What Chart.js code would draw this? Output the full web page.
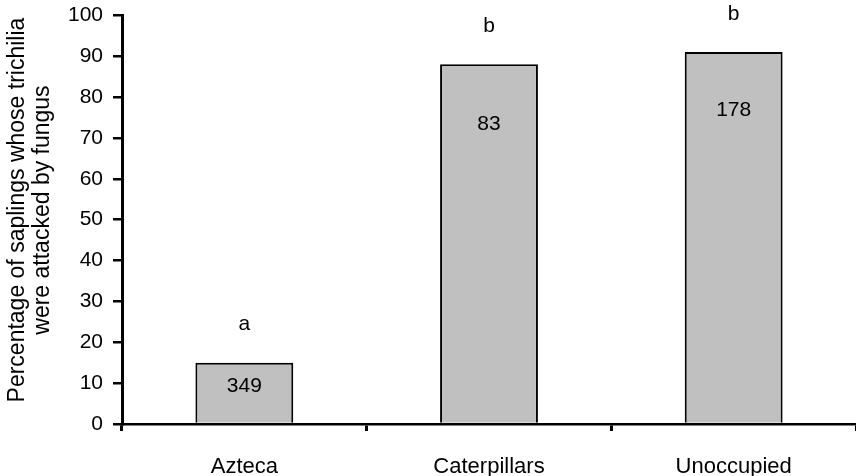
<!DOCTYPE html>
<html>
<head>
<meta charset="utf-8">
<script src="https://cdn.jsdelivr.net/npm/chart.js@4.4.1/dist/chart.umd.min.js"></script>
<style>
  html, body { margin: 0; padding: 0; background: #fff; }
  #wrap { width: 856px; height: 476px; }
</style>
</head>
<body>
<div id="wrap"><canvas id="graph1"></canvas></div>
<script>
const categories = ['Azteca', 'Caterpillars', 'Unoccupied'];
const percentAttacked = [15, 88, 91];
const sampleSizes = ['349', '83', '178'];
const groupLetters = ['a', 'b', 'b'];
const yTickMin = 0;
const yTickMax = 100;
const yTickStep = 10;

const FONT = 'Liberation Sans, Arial, sans-serif';

// letters above bars, sample sizes inside bars (pixel offsets from the bar top)
const letterOffset = 38;
const countOffsets = [24, 60, 58];

const barLabels = {
  id: 'barLabels',
  afterDatasetsDraw(chart) {
    const ctx = chart.ctx;
    const meta = chart.getDatasetMeta(0);
    ctx.save();
    ctx.fillStyle = '#000';
    ctx.font = '21px ' + FONT;
    ctx.textAlign = 'center';
    ctx.textBaseline = 'middle';
    meta.data.forEach((bar, i) => {
      ctx.fillText(groupLetters[i], bar.x, bar.y - letterOffset);
      ctx.fillText(sampleSizes[i], bar.x, bar.y + countOffsets[i]);
    });
    ctx.restore();
  }
};

const ctx = document.getElementById('graph1').getContext('2d');

const data = {
  labels: categories,
  datasets: [
    {
      data: percentAttacked,
      backgroundColor: '#c0c0c0',
      borderColor: '#000',
      borderWidth: 2,
      borderSkipped: 'bottom',
      categoryPercentage: 1.0,
      barPercentage: 0.4
    }
  ]
};

const options = {
  responsive: true,
  maintainAspectRatio: false,
  animation: false,
  layout: { padding: { top: 2, right: 0, bottom: 0, left: 0 } },
  plugins: {
    legend: { display: false },
    tooltip: { enabled: false }
  },
  scales: {
    x: {
      offset: true,
      grid: {
        offset: true,
        drawOnChartArea: false,
        drawTicks: true,
        tickLength: 7,
        color: '#000',
        lineWidth: 3
      },
      border: { color: '#000', width: 2.5 },
      ticks: {
        color: '#000',
        font: { family: FONT, size: 22 },
        padding: 23
      },
      afterFit(scale) { scale.height = 52; }
    },
    y: {
      min: yTickMin,
      max: yTickMax,
      grid: {
        drawOnChartArea: false,
        drawTicks: true,
        tickLength: 9,
        color: '#000',
        lineWidth: 2.5
      },
      border: { color: '#000', width: 3 },
      ticks: {
        stepSize: yTickStep,
        color: '#000',
        font: { family: FONT, size: 21, lineHeight: 0.5 },
        padding: 10
      },
      title: {
        display: true,
        // leading spaces nudge the rotated title up a little
        text: ['   Percentage of saplings whose trichilia', '   were attacked by fungus'],
        color: '#000',
        font: { family: FONT, size: 23, lineHeight: 1.05 },
        padding: { top: 6, bottom: 1 }
      },
      afterFit(scale) { scale.width = 122; }
    }
  }
};

const config = {
  type: 'bar',
  data: data,
  options: options,
  plugins: [barLabels]
};
const chart = new Chart(ctx, config);
</script>
</body>
</html>
